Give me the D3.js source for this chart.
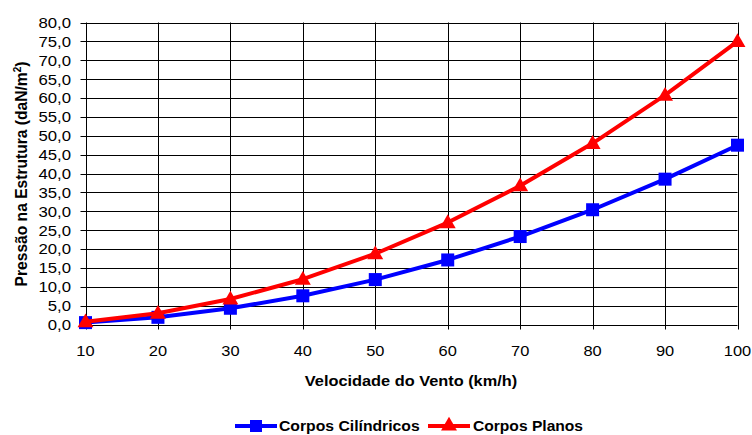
<!DOCTYPE html>
<html><head><meta charset="utf-8">
<script src="https://cdn.jsdelivr.net/npm/d3@7"></script>
<style>body{margin:0;background:#fff}svg{display:block;font-family:"Liberation Sans",Arial,sans-serif}</style>
</head><body><svg id="c" width="752" height="435"></svg>
<script>
const speeds = [10,20,30,40,50,60,70,80,90,100];
const cilindricos = [0.5,1.9,4.3,7.6,11.9,17.1,23.3,30.4,38.5,47.5];
const planos = [0.75,3.0,6.75,12.0,18.75,27.0,36.75,48.0,60.75,75.0];
const yTicks = [0,5,10,15,20,25,30,35,40,45,50,55,60,65,70,75,80];
const xTicks = [10,20,30,40,50,60,70,80,90,100];
const seriesNames = ["Corpos Cilíndricos","Corpos Planos"];
const colors = ["#0000ff","#ff0000"];

const svg = d3.select("#c");
const x = d3.scaleLinear().domain([10,100]).range([85.5,737.5]);
const y = d3.scaleLinear().domain([0,80]).range([324.5,22.5]);
const fmt = v => d3.format(".1f")(v).replace(".", ",");
const stretch = (ax, s) => `translate(${ax},0) scale(${s},1) translate(${-ax},0)`;

// grid
const g = svg.append("g");
g.selectAll(".hg").data(yTicks).join("line")
  .attr("x1", x(10)-5).attr("x2", x(100))
  .attr("y1", d=>Math.round(y(d))+0.5).attr("y2", d=>Math.round(y(d))+0.5)
  .attr("stroke","#000").attr("stroke-width",1);
g.selectAll(".vg").data(xTicks).join("line")
  .attr("x1", d=>Math.round(x(d))+0.5).attr("x2", d=>Math.round(x(d))+0.5)
  .attr("y1", y(80)).attr("y2", y(0)+5)
  .attr("stroke","#000").attr("stroke-width",1);

// tick labels
svg.append("g").selectAll("text").data(yTicks).join("text")
  .attr("x", 71).attr("y", d=>y(d)+5.5)
  .attr("text-anchor","end").attr("font-size",15.5).attr("fill","#000")
  .attr("transform", stretch(71,1.08))
  .text(fmt);
svg.append("g").selectAll("text").data(xTicks).join("text")
  .attr("x", d=>x(d)).attr("y", 356)
  .attr("text-anchor","middle").attr("font-size",15.5).attr("fill","#000")
  .attr("transform", d=>stretch(x(d),1.06))
  .text(d=>d);

// axis titles
svg.append("text").attr("x", 411).attr("y", 386).attr("text-anchor","middle")
  .attr("font-weight","bold").attr("font-size",15)
  .attr("transform", stretch(411,1.09)).text("Velocidade do Vento (km/h)");
const yt = svg.append("text").attr("transform","translate(27,174) rotate(-90)")
  .attr("text-anchor","middle").attr("font-weight","bold").attr("font-size",15.6);
yt.append("tspan").text("Pressão na Estrutura (daN/m");
yt.append("tspan").attr("font-size",10).attr("dy",-6).text("2");
yt.append("tspan").attr("dy",6).text(")");

// lines
const line = d3.line().x((d,i)=>x(speeds[i])).y(d=>y(d));
const tri = d3.symbol().type(d3.symbolTriangle).size(110);
[cilindricos, planos].forEach((s,k)=>{
  svg.append("path").datum(s).attr("d", line).attr("fill","none")
    .attr("stroke", colors[k]).attr("stroke-width",4).attr("stroke-linejoin","round");
  if (k===0) {
    svg.append("g").selectAll("rect").data(s).join("rect")
      .attr("x",(d,i)=>x(speeds[i])-6.5).attr("y",d=>y(d)-6.5)
      .attr("width",13).attr("height",13).attr("fill",colors[k]);
  } else {
    svg.append("g").selectAll("path").data(s).join("path")
      .attr("d", tri).attr("transform",(d,i)=>`translate(${x(speeds[i])},${y(d)+1})`)
      .attr("fill",colors[k]);
  }
});

// legend
const ly = 426;
const leg = svg.append("g");
leg.append("line").attr("x1",235).attr("x2",277).attr("y1",ly).attr("y2",ly).attr("stroke",colors[0]).attr("stroke-width",4);
leg.append("rect").attr("x",250).attr("y",ly-6).attr("width",12).attr("height",12).attr("fill",colors[0]);
leg.append("text").attr("x",279).attr("y",ly+5.5).attr("font-weight","bold").attr("font-size",15)
  .attr("transform", stretch(279,1.05)).text(seriesNames[0]);
leg.append("line").attr("x1",428).attr("x2",470).attr("y1",ly).attr("y2",ly).attr("stroke",colors[1]).attr("stroke-width",4);
leg.append("path").attr("d",tri).attr("transform",`translate(449,${ly})`).attr("fill",colors[1]);
leg.append("text").attr("x",473).attr("y",ly+5.5).attr("font-weight","bold").attr("font-size",15)
  .attr("transform", stretch(473,1.04)).text(seriesNames[1]);
</script></body></html>
